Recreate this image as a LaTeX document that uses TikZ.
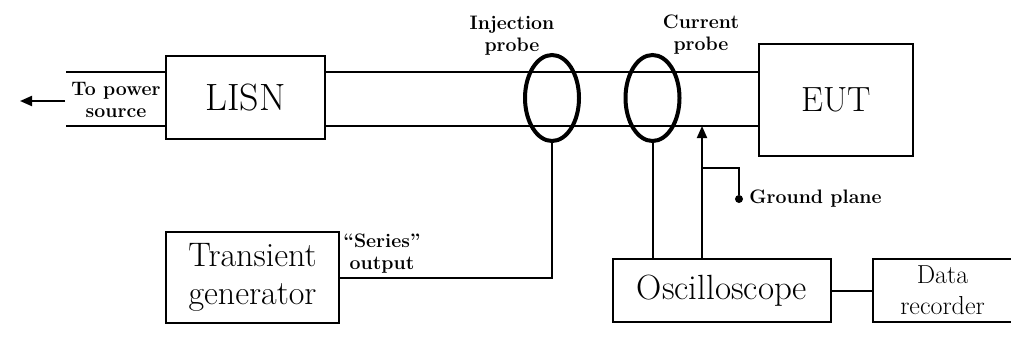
\documentclass[tikz,border=0pt]{standalone}
\usepackage{fontspec}
\usepackage{tikz}
\usetikzlibrary{positioning, shapes.geometric, arrows.meta}

\begin{document}
\begin{tikzpicture}[x=1pt, y=-1pt, >={Triangle[length=12pt,width=10pt]},
    bloc/.style={draw, line width=2pt, inner sep=0pt, align=center},
    sonde/.style={draw, ellipse, line width=4pt, minimum width=54pt, minimum height=86pt, inner sep=0pt, outer sep=0pt},
    etiquette/.style={font=\fontsize{19.5}{22}\selectfont\bfseries, align=center, inner sep=0pt},
    fil/.style={line width=2pt}]

    \useasboundingbox (0,0) rectangle (1011,338);

    % Définitions des blocs
    \node[bloc, minimum width=159pt, minimum height=83pt, font=\fontsize{38}{42}\selectfont] (lisn) at (245.5,97.5) {LISN};
    \node[bloc, minimum width=154pt, minimum height=112pt, font=\fontsize{35}{40}\selectfont] (eut) at (836,100) {EUT};
    \node[bloc, minimum width=173pt, minimum height=91pt, font=\fontsize{34}{38}\selectfont] (gen) at (252.5,277.5) {Transient\\generator};
    \node[bloc, minimum width=218pt, minimum height=63pt, font=\fontsize{35}{40}\selectfont] (osc) at (722,290.5) {Oscilloscope};
    \node[bloc, minimum width=139pt, minimum height=63pt, font=\fontsize{26}{31}\selectfont, right=40pt of osc] (rec) {Data\\recorder};

    % Lignes d'alimentation
    \coordinate (haut) at (66,72);
    \coordinate (bas) at (66,126);
    \coordinate (depart) at (65,101);
    \coordinate (source) at (20,101);
    \draw[fil] (haut) -- (haut -| lisn.west);
    \draw[fil] (bas) -- (bas -| lisn.west);
    \draw[fil] (lisn.east |- haut) -- (eut.west |- haut);
    \draw[fil] (lisn.east |- bas) -- (eut.west |- bas);
    \draw[fil, ->] (depart) -- (source);

    % Sondes
    \node[sonde] (inj) at (552,98) {};
    \node[sonde] (cur) at (652.5,98) {};

    % Liaisons
    \coordinate (masse) at (702,126);
    \coordinate (branche) at (702,168);
    \node[circle, fill, inner sep=0pt, minimum size=8pt] (point) at (739,199) {};
    \draw[fil] (gen.east) -| (inj.south);
    \draw[fil] (cur.south) -- (cur.south |- osc.north);
    \draw[fil, ->] (masse |- osc.north) -- (masse);
    \draw[fil] (branche) -| (point);
    \draw[fil] (osc) -- (rec);

    % Étiquettes
    \node[etiquette] (l-source) at (116,100) {To power\\source};
    \node[etiquette] (l-inj) at (512,36) {Injection\\probe};
    \node[etiquette] (l-cur) at (701,35) {Current\\probe};
    \node[etiquette] (l-serie) at (382,254) {``Series''\\output};
    \node[etiquette, right=6pt of point] (l-masse) {Ground plane};

\end{tikzpicture}
\end{document}
